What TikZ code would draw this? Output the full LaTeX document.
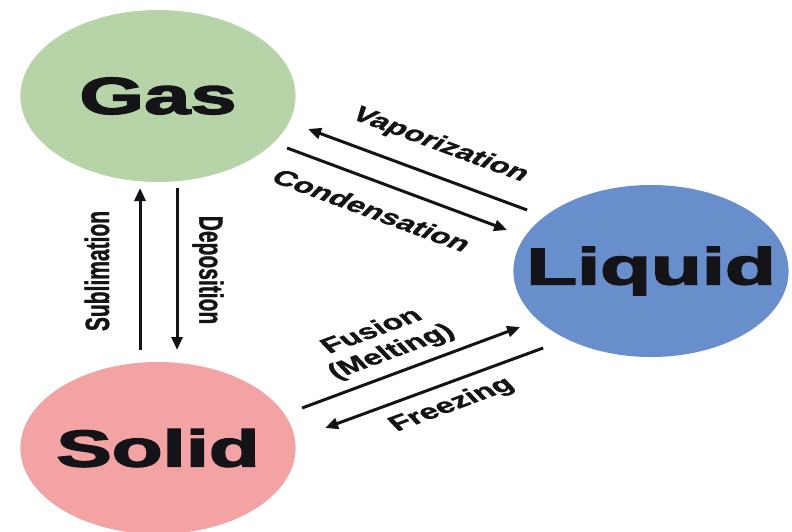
\documentclass[tikz,border=0pt]{standalone}
\usepackage{fontspec}
\setmainfont{Liberation Sans}
\newfontfamily\heavyfont{Liberation Sans Bold}[FakeBold=2.5]
\newfontfamily\labelfont{Liberation Sans Bold}[FakeBold=1.2]
\usetikzlibrary{arrows.meta,shapes.geometric}
\definecolor{gasgreen}{RGB}{183,212,168}
\definecolor{liquidblue}{RGB}{104,142,204}
\definecolor{solidpink}{RGB}{243,163,164}
\definecolor{inkblack}{RGB}{20,20,24}

\begin{document}
\begin{tikzpicture}[
    x=0.625pt, y=-1pt, xscale=1.6, transform shape,
    phase/.style={circle, minimum size=172pt, inner sep=0pt, text=inkblack,
        font=\fontsize{52}{52}\selectfont\heavyfont},
    trans/.style={-{Triangle[length=13pt,width=11pt]}, line width=3pt, draw=inkblack},
    lbl/.style={font=\fontsize{21}{24}\selectfont\labelfont, inner sep=0pt,
        text=inkblack, align=center}
]
\useasboundingbox (0,0) rectangle (792,531);

% phases
\node[phase, fill=gasgreen] (gas) at (158,96) {Gas};
\node[phase, fill=liquidblue] (liquid) at (651,271) {Liquid};
\node[phase, fill=solidpink] (solid) at (158,448) {Solid};

% arrow ends
\coordinate (subl-a) at (140,350);
\coordinate (subl-b) at (140,188);
\coordinate (depo-a) at (177,188);
\coordinate (depo-b) at (177,350);
\coordinate (vap-a) at (527,210);
\coordinate (vap-b) at (308,129);
\coordinate (cond-a) at (287,148);
\coordinate (cond-b) at (507,230);
\coordinate (fus-a) at (302,408);
\coordinate (fus-b) at (520,327);
\coordinate (frz-a) at (543,348);
\coordinate (frz-b) at (325,428);

\draw[trans] (subl-a) -- (subl-b);
\draw[trans] (depo-a) -- (depo-b);
\draw[trans] (vap-a) -- (vap-b);
\draw[trans] (cond-a) -- (cond-b);
\draw[trans] (fus-a) -- (fus-b);
\draw[trans] (frz-a) -- (frz-b);

% labels
\node[lbl, rotate=90] (subl) at (97,271) {Sublimation};
\node[lbl, rotate=-90] (depo) at (208,270) {Deposition};
\node[lbl, rotate=-30.6] (vap) at (440,145) {Vaporization};
\node[lbl, rotate=-30.6] (cond) at (372,210) {Condensation};
\node[lbl, rotate=30.7] (fus) at (382,342) {Fusion\\(Melting)};
\node[lbl, rotate=30.7] (frz) at (452,405) {Freezing};
\end{tikzpicture}
\end{document}
